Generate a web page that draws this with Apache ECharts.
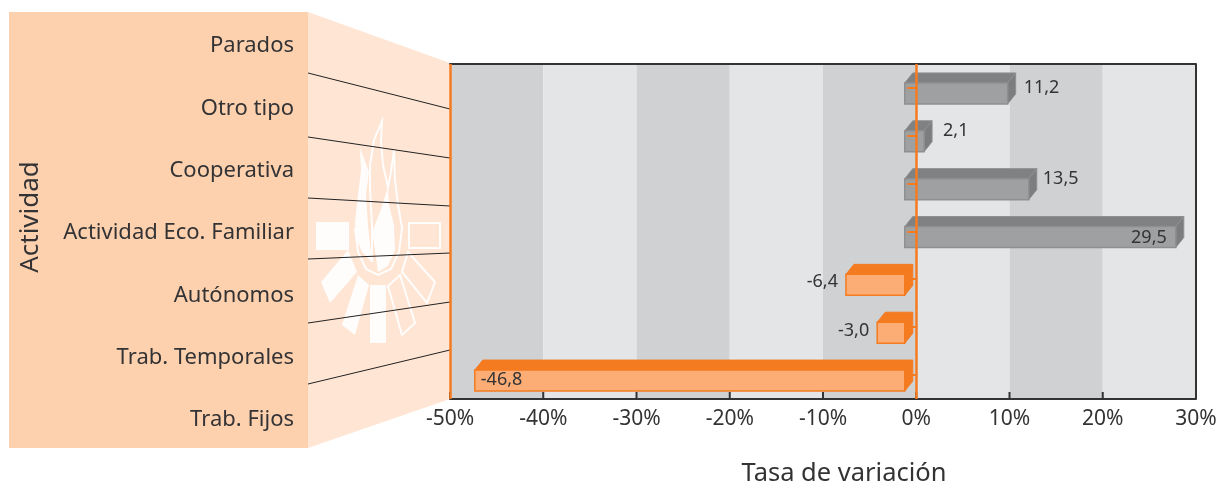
<!DOCTYPE html>
<html>
<head>
<meta charset="utf-8">
<style>
  html, body { margin: 0; padding: 0; background: #fff; }
  #main { width: 1220px; height: 482px; }
</style>
<script src="https://cdn.jsdelivr.net/npm/echarts@6/dist/echarts.min.js"></script>
</head>
<body>
<div id="main"></div>
<script>
// top row first
var categories = ['Parados', 'Otro tipo', 'Cooperativa', 'Actividad Eco. Familiar', 'Autónomos', 'Trab. Temporales', 'Trab. Fijos'];
var rates = [11.2, 2.1, 13.5, 29.5, -6.4, -3.0, -46.8];
var xTicks = [-50, -40, -30, -20, -10, 0, 10, 20, 30];
var axisName = 'Actividad';
var valueName = 'Tasa de variación';

var FONT = '"Noto Sans"';
var TEXT = '#333335';
var DEPTH_X = 8, DEPTH_Y = 10;
var GRAY = { front: '#9fa0a2', edge: '#8e8f91', top: '#808183', side: '#7c7d7f' };
var ORANGE = { front: '#fbad75', edge: '#f47b20', top: '#f47b20', side: '#f47b20' };
// per bar label shift, the source places them by hand
var labelNudge = [[0, 0], [3, -5], [-2, -5], [0, 6], [0, 3], [0, 4], [0, 5]];

function renderBar(params, api) {
	var v = api.value(0), idx = api.value(1);
	var a = api.coord([0, idx]), b = api.coord([v, idx]);
	var left = Math.min(a[0], b[0]), right = Math.max(a[0], b[0]);
	var y0 = a[1] - 5, y1 = a[1] + 16;
	var c = v < 0 ? ORANGE : GRAY;
	var big = Math.abs(v) > 25;
	var nudge = labelNudge[idx];
	var tx, align;
	if (v < 0) {
		tx = big ? left + 6 : left - 8;
		align = big ? 'left' : 'right';
	} else {
		tx = big ? right - 9 : right + DEPTH_X + 8;
		align = big ? 'right' : 'left';
	}
	return {
		type: 'group',
		children: [
			{ type: 'polygon', shape: { points: [[left, y0], [left + DEPTH_X, y0 - DEPTH_Y], [right + DEPTH_X, y0 - DEPTH_Y], [right, y0]] },
				style: { fill: c.top, stroke: c.edge, lineWidth: 1 } },
			{ type: 'polygon', shape: { points: [[right, y0], [right + DEPTH_X, y0 - DEPTH_Y], [right + DEPTH_X, y1 - DEPTH_Y], [right, y1]] },
				style: { fill: c.side, stroke: c.edge, lineWidth: 1 } },
			{ type: 'rect', shape: { x: left, y: y0, width: right - left, height: y1 - y0 },
				style: { fill: c.front, stroke: c.edge, lineWidth: 1.5 } },
			{ type: 'text', style: { x: tx + nudge[0], y: a[1] + nudge[1], text: v.toFixed(1).replace('.', ','),
				align: align, verticalAlign: 'middle', fill: TEXT, font: '18px ' + FONT } }
		]
	};
}

function renderTick(params, api) {
	var v = api.value(0), idx = api.value(1);
	var p = api.coord([0, idx]);
	var y = Math.round(p[1]);
	return {
		type: 'line',
		shape: { x1: p[0] - (v < 0 ? 4 : 9), y1: y, x2: p[0], y2: y },
		style: { stroke: ORANGE.edge, lineWidth: 2 }
	};
}

// splitArea paints over the axis ticks, so these are drawn as a series
function renderXTick(params, api) {
	var x = api.coord([api.value(0), 0])[0];
	var bottom = params.coordSys.y + params.coordSys.height;
	return {
		type: 'line',
		shape: { x1: x, y1: bottom - 7, x2: x, y2: bottom },
		style: { stroke: '#333', lineWidth: 2 }
	};
}

var barData = rates.map(function (v, i) { return [v, i]; });
var tickData = xTicks.map(function (v) { return [v, 0]; });

var logoFill = { fill: '#fff', opacity: 0.9 };
var logoLine = { fill: 'none', stroke: '#fff', lineWidth: 2, opacity: 0.9 };

var chart = echarts.init(document.getElementById('main'), null, { renderer: 'canvas' });
chart.setOption({
	animation: false,
	backgroundColor: '#fff',
	textStyle: { fontFamily: FONT },
	graphic: [
		{ type: 'rect', z: -5, shape: { x: 9, y: 12, width: 299, height: 436 }, style: { fill: '#fdd1ae' } },
		{ type: 'polygon', z: -5, shape: { points: [[308, 12], [450, 63], [450, 399], [308, 448]] }, style: { fill: '#fee5d4' } },
		// bonfire watermark
		{ type: 'polygon', z: -4, shape: { points: [[360, 148], [369, 172], [366, 195], [368, 225], [372, 262], [362, 252], [356, 238], [355, 222], [358, 195], [361, 170]] }, style: logoFill },
		{ type: 'polygon', z: -4, shape: { points: [[388, 187], [389, 205], [394, 225], [395, 250], [388, 266], [378, 272], [375, 250], [372, 232], [380, 212]] }, style: logoFill },
		{ type: 'polyline', z: -4, shape: { points: [[355, 228], [358, 252], [366, 269], [378, 275], [391, 269], [399, 252], [402, 228], [398, 205], [395, 180], [394, 150], [391, 172], [388, 187], [383, 165], [381, 142], [382, 121], [374, 140], [370, 165], [370, 190], [372, 225], [372, 262]] }, style: logoLine },
		{ type: 'rect', z: -4, shape: { x: 316, y: 222, width: 33, height: 28 }, style: logoFill },
		{ type: 'rect', z: -4, shape: { x: 409, y: 223, width: 31, height: 25 }, style: logoLine },
		{ type: 'polygon', z: -4, shape: { points: [[348, 250], [357, 272], [330, 303], [321, 282]] }, style: logoFill },
		{ type: 'polygon', z: -4, shape: { points: [[358, 275], [369, 285], [355, 335], [342, 325]] }, style: logoFill },
		{ type: 'rect', z: -4, shape: { x: 370, y: 285, width: 16, height: 58 }, style: logoFill },
		{ type: 'polygon', z: -4, shape: { points: [[388, 286], [400, 275], [415, 323], [402, 335]] }, style: logoLine },
		{ type: 'polygon', z: -4, shape: { points: [[402, 272], [408, 252], [435, 282], [427, 303]] }, style: logoLine },
		// lines joining the label rows to the plot rows
		{ type: 'line', z: -3, shape: { x1: 308, y1: 73, x2: 450, y2: 109 }, style: { stroke: '#222', lineWidth: 1 } },
		{ type: 'line', z: -3, shape: { x1: 308, y1: 137, x2: 450, y2: 158 }, style: { stroke: '#222', lineWidth: 1 } },
		{ type: 'line', z: -3, shape: { x1: 308, y1: 198, x2: 450, y2: 206 }, style: { stroke: '#222', lineWidth: 1 } },
		{ type: 'line', z: -3, shape: { x1: 308, y1: 259, x2: 450, y2: 253 }, style: { stroke: '#222', lineWidth: 1 } },
		{ type: 'line', z: -3, shape: { x1: 308, y1: 323, x2: 450, y2: 302 }, style: { stroke: '#222', lineWidth: 1 } },
		{ type: 'line', z: -3, shape: { x1: 308, y1: 384, x2: 450, y2: 350 }, style: { stroke: '#222', lineWidth: 1 } }
	],
	grid: [
		{ left: 450, top: 64, width: 746, height: 335, outerBoundsMode: 'none' },
		{ left: 308, top: 15, width: 142, height: 436, outerBoundsMode: 'none' }
	],
	xAxis: [
		{
			type: 'value', gridIndex: 0, min: -50, max: 30, interval: 10,
			axisLine: { show: true, onZero: false, lineStyle: { color: '#333', width: 2 } },
			axisTick: { show: false },
			axisLabel: { formatter: '{value}%', color: TEXT, fontSize: 21, margin: 10, fontFamily: FONT, showMinLabel: true, showMaxLabel: true },
			splitLine: { show: false },
			splitArea: { show: true, areaStyle: { color: ['#d0d1d3', '#e4e5e7'] } },
			name: valueName, nameLocation: 'middle', nameGap: 62,
			nameTextStyle: { fontSize: 25.5, color: TEXT, fontFamily: FONT, padding: [0, 0, 0, 42] }
		},
		{
			// the drawn bars run on a slightly tighter scale than the printed axis, from the front face
			type: 'value', gridIndex: 0, position: 'top', min: -49.5, max: 31.7,
			axisLine: { show: true, onZero: false, lineStyle: { color: '#333', width: 2 } },
			axisTick: { show: false }, axisLabel: { show: false }, splitLine: { show: false }
		},
		{ type: 'value', gridIndex: 1, show: false }
	],
	yAxis: [
		{
			type: 'category', gridIndex: 0, inverse: true, data: categories,
			axisLine: { show: false }, axisTick: { show: false }, axisLabel: { show: false }
		},
		{
			type: 'category', gridIndex: 1, inverse: true, data: categories, position: 'left',
			axisLine: { show: false }, axisTick: { show: false },
			axisLabel: { color: TEXT, fontSize: 22, margin: 14, fontFamily: FONT, interval: 0 },
			name: axisName, nameLocation: 'middle', nameGap: 262, nameRotate: 90,
			nameTextStyle: { fontSize: 26, color: TEXT, fontFamily: FONT, padding: [0, 0, 2, 32] }
		}
	],
	series: [
		{
			type: 'custom', name: 'xticks', xAxisIndex: 0, yAxisIndex: 0, z: 2, clip: false, silent: true,
			encode: { x: 0, y: 1 }, data: tickData, renderItem: renderXTick
		},
		{
			type: 'custom', name: 'rates', xAxisIndex: 1, yAxisIndex: 0, z: 3, clip: false, silent: true,
			encode: { x: 0, y: 1 }, data: barData, renderItem: renderBar
		},
		{
			type: 'custom', name: 'ticks', xAxisIndex: 0, yAxisIndex: 0, z: 4, clip: false, silent: true,
			encode: { x: 0, y: 1 }, data: barData, renderItem: renderTick,
			markLine: {
				silent: true, symbol: 'none', label: { show: false }, animation: false,
				data: [
					{ xAxis: -50, lineStyle: { color: ORANGE.edge, width: 2.5, type: 'solid' } },
					{ xAxis: 0, lineStyle: { color: ORANGE.edge, width: 2.5, type: 'solid' } },
					{ xAxis: 30, lineStyle: { color: '#333', width: 2, type: 'solid' } }
				]
			}
		}
	]
});
</script>
</body>
</html>
